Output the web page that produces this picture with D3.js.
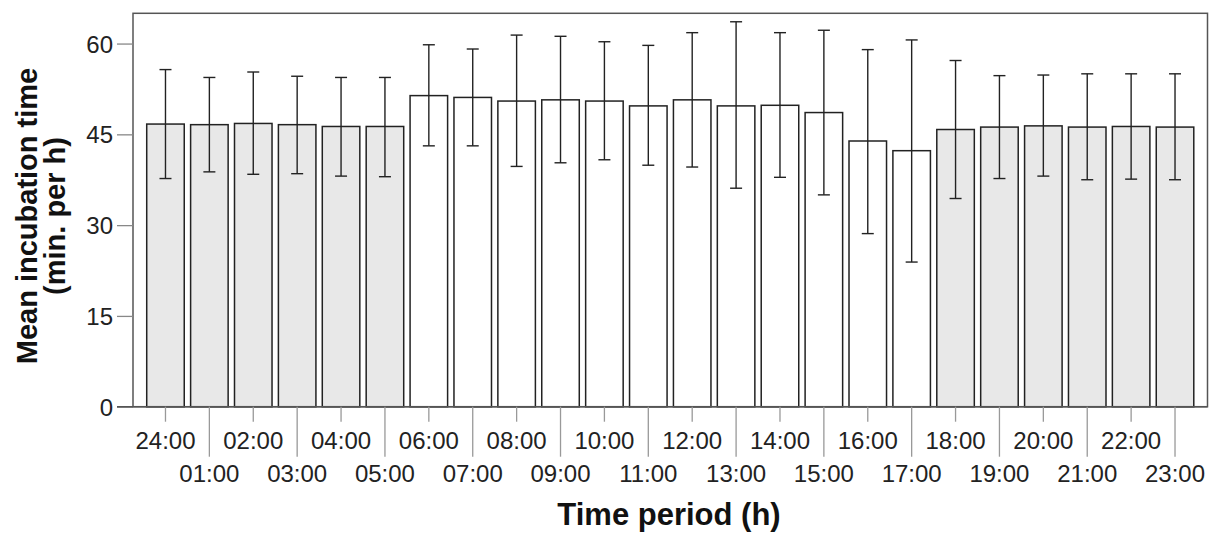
<!DOCTYPE html>
<html>
<head>
<meta charset="utf-8">
<script src="https://cdn.jsdelivr.net/npm/d3@7"></script>
<style>
  html, body { margin: 0; padding: 0; background: #fff; }
  svg { display: block; }
</style>
</head>
<body>
<svg id="chart" width="1209" height="535"></svg>
<script>
// ---- data ----
const categories = ["24:00","01:00","02:00","03:00","04:00","05:00","06:00","07:00","08:00","09:00","10:00","11:00",
                    "12:00","13:00","14:00","15:00","16:00","17:00","18:00","19:00","20:00","21:00","22:00","23:00"];
const means      = [46.7, 46.6, 46.8, 46.6, 46.3, 46.3, 51.4, 51.1, 50.5, 50.7, 50.5, 49.7,
                    50.7, 49.7, 49.8, 48.6, 43.9, 42.3, 45.8, 46.2, 46.4, 46.2, 46.3, 46.2];
const errUpper   = [55.7, 54.4, 55.3, 54.6, 54.4, 54.4, 59.8, 59.1, 61.4, 61.2, 60.3, 59.7,
                    61.8, 63.6, 61.8, 62.2, 59.0, 60.6, 57.2, 54.7, 54.8, 55.0, 55.0, 55.0];
const errLower   = [37.7, 38.8, 38.4, 38.5, 38.1, 38.0, 43.1, 43.1, 39.7, 40.3, 40.8, 39.9,
                    39.6, 36.1, 37.9, 35.0, 28.6, 23.9, 34.4, 37.7, 38.1, 37.5, 37.6, 37.5];
const isNight    = [1,1,1,1,1,1,0,0,0,0,0,0, 0,0,0,0,0,0,1,1,1,1,1,1];
const yTicks     = [0, 15, 30, 45, 60];
const xTitle = "Time period (h)";
const yTitle1 = "Mean incubation time";
const yTitle2 = "(min. per h)";

// ---- layout ----
const FONT = "Liberation Sans, Arial, sans-serif";
const svg = d3.select("#chart");
const L = 133, R = 1207.5, T = 13.3, B = 406.7;

const x = d3.scaleBand().domain(categories).range([L, R]).paddingInner(0.145).paddingOuter(0.3125);
const y = d3.scaleLinear().domain([0, 65]).range([B, T]);

const data = categories.map((c, i) => ({c, m: means[i], hi: errUpper[i], lo: errLower[i], night: isNight[i], i}));

// frame
svg.append("rect").attr("x", L).attr("y", T).attr("width", R - L).attr("height", B - T)
  .attr("fill", "none").attr("stroke", "#555").attr("stroke-width", 1.5);

// y axis
const yAxis = svg.append("g").attr("transform", `translate(${L},0)`)
  .call(d3.axisLeft(y).tickValues(yTicks).tickSize(16).tickPadding(4));
yAxis.select(".domain").remove();
yAxis.selectAll(".tick line").attr("stroke", "#888").attr("stroke-width", 1.3);
yAxis.selectAll(".tick text").attr("fill", "#222").style("font-family", FONT)
  .style("font-size", "24px").attr("dy", "0.36em");

// bars
svg.append("g").selectAll("rect").data(data).join("rect")
  .attr("x", d => x(d.c)).attr("width", x.bandwidth())
  .attr("y", d => y(d.m)).attr("height", d => y(0) - y(d.m))
  .attr("fill", d => d.night ? "#e8e8e8" : "#ffffff")
  .attr("stroke", "#222").attr("stroke-width", 1.5);

// error bars
const eb = svg.append("g").attr("stroke", "#222").attr("stroke-width", 1.4);
const cap = 6;
data.forEach(d => {
  const cx = x(d.c) + x.bandwidth() / 2;
  eb.append("line").attr("x1", cx).attr("x2", cx).attr("y1", y(d.hi)).attr("y2", y(d.lo));
  eb.append("line").attr("x1", cx - cap).attr("x2", cx + cap).attr("y1", y(d.hi)).attr("y2", y(d.hi));
  eb.append("line").attr("x1", cx - cap).attr("x2", cx + cap).attr("y1", y(d.lo)).attr("y2", y(d.lo));
});

// x axis baseline
svg.append("line").attr("x1", 117).attr("x2", R).attr("y1", B).attr("y2", B)
  .attr("stroke", "#555").attr("stroke-width", 1.5);

// x ticks & labels (staggered)
const xa = svg.append("g");
data.forEach(d => {
  const cx = x(d.c) + x.bandwidth() / 2;
  const odd = d.i % 2 === 1;
  xa.append("line").attr("x1", cx).attr("x2", cx).attr("y1", B).attr("y2", odd ? 456.7 : 421.7)
    .attr("stroke", "#999").attr("stroke-width", 1.3);
  xa.append("text").attr("x", cx).attr("y", odd ? 482 : 449)
    .attr("text-anchor", "middle").attr("fill", "#222")
    .style("font-family", FONT).style("font-size", "24px")
    .text(d.c);
});

// axis titles
svg.append("text").attr("x", 669).attr("y", 525).attr("text-anchor", "middle")
  .style("font-family", FONT).style("font-size", "31px").style("font-weight", "bold")
  .attr("fill", "#111").text(xTitle);

const yt = svg.append("g").attr("transform", `translate(0, 216) rotate(-90)`);
yt.append("text").attr("x", 0).attr("y", 36.5).attr("text-anchor", "middle")
  .style("font-family", FONT).style("font-size", "29px").style("font-weight", "bold")
  .attr("fill", "#111").text(yTitle1);
yt.append("text").attr("x", 0).attr("y", 65).attr("text-anchor", "middle")
  .style("font-family", FONT).style("font-size", "29px").style("font-weight", "bold")
  .attr("fill", "#111").text(yTitle2);
</script>
</body>
</html>
